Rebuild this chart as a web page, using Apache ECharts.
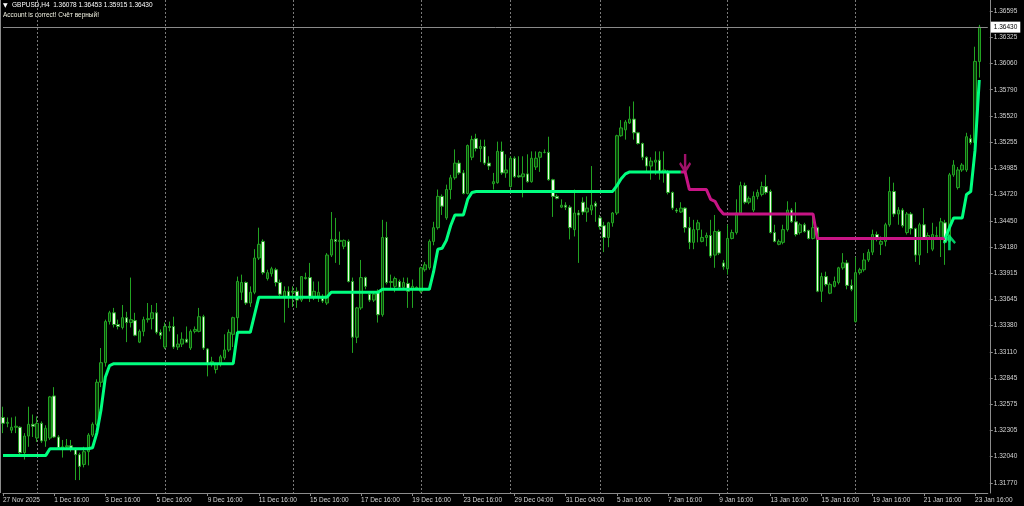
<!DOCTYPE html>
<html><head><meta charset="utf-8">
<script src="https://cdn.jsdelivr.net/npm/echarts@6/dist/echarts.min.js"></script>
<style>html,body{margin:0;padding:0;background:#000;}#c{width:1024px;height:506px;}</style>
</head><body><div id="c"></div>
<script>
const symbolName = 'GBPUSD,H4';
const accountText = 'Account is correct! Счёт верный!';
const tickLabels = ['27 Nov 2025','1 Dec 16:00','3 Dec 16:00','5 Dec 16:00','9 Dec 16:00','11 Dec 16:00','15 Dec 16:00','17 Dec 16:00','19 Dec 16:00','23 Dec 16:00','29 Dec 04:00','31 Dec 04:00','5 Jan 16:00','7 Jan 16:00','9 Jan 16:00','13 Jan 16:00','15 Jan 16:00','19 Jan 16:00','21 Jan 16:00','23 Jan 16:00'];
const labelEvery = 12;
const weekStarts = [8,38,68,98,119,140,170,200];
const yTicks = [1.31770,1.32040,1.32305,1.32575,1.32845,1.33110,1.33380,1.33645,1.33915,1.34180,1.34450,1.34720,1.34985,1.35255,1.35520,1.35790,1.36060,1.36325,1.36595];

const open = [
1.3244,1.3238,1.3231,1.3234,1.3234,1.3208,1.3225,1.3237,1.3223,1.3238,
1.3220,1.3223,1.3266,1.3224,1.3213,1.3214,1.3215,1.3212,1.3206,1.3196,
1.3209,1.3226,1.3237,1.3280,1.3300,1.3342,1.3351,1.3339,1.3336,1.3346,
1.3341,1.3343,1.3321,1.3332,1.3344,1.3345,1.3351,1.3331,1.3316,1.3337,
1.3337,1.3316,1.3319,1.3324,1.3315,1.3332,1.3332,1.3347,1.3314,1.3298,
1.3293,1.3298,1.3305,1.3313,1.3329,1.3346,1.3372,1.3382,1.3361,1.3372,
1.3407,1.3424,1.3386,1.3391,1.3395,1.3382,1.3367,1.3373,1.3372,1.3373,
1.3364,1.3386,1.3387,1.3367,1.3368,1.3366,1.3361,1.3410,1.3426,1.3424,
1.3419,1.3424,1.3383,1.3326,1.3356,1.3387,1.3370,1.3364,1.3373,1.3349,
1.3428,1.3382,1.3378,1.3383,1.3377,1.3381,1.3375,1.3376,1.3373,1.3395,
1.3397,1.3424,1.3438,1.3470,1.3448,1.3477,1.3489,1.3504,1.3494,1.3473,
1.3510,1.3529,1.3519,1.3521,1.3504,1.3483,1.3484,1.3516,1.3494,1.3480,
1.3509,1.3491,1.3490,1.3493,1.3485,1.3500,1.3510,1.3515,1.3515,1.3487,
1.3470,1.3459,1.3461,1.3459,1.3436,1.3453,1.3464,1.3454,1.3456,1.3463,
1.3448,1.3440,1.3428,1.3443,1.3453,1.3532,1.3538,1.3545,1.3549,1.3535,
1.3524,1.3510,1.3501,1.3505,1.3507,1.3495,1.3495,1.3474,1.3456,1.3454,
1.3458,1.3438,1.3423,1.3436,1.3424,1.3428,1.3430,1.3410,1.3434,1.3402,
1.3396,1.3427,1.3433,1.3453,1.3481,1.3464,1.3456,1.3470,1.3472,1.3480,
1.3475,1.3433,1.3421,1.3423,1.3436,1.3456,1.3444,1.3433,1.3441,1.3435,
1.3427,1.3438,1.3373,1.3388,1.3371,1.3378,1.3382,1.3397,1.3402,1.3379,
1.3342,1.3392,1.3395,1.3405,1.3413,1.3431,1.3421,1.3424,1.3441,1.3475,
1.3452,1.3456,1.3433,1.3452,1.3437,1.3410,1.3441,1.3427,1.3416,1.3429,
1.3426,1.3443,1.3424,1.3492,1.3479,1.3497,1.3497,1.3529,1.3525,1.36078];
const high = [
1.3255,1.3244,1.3244,1.3245,1.3235,1.3228,1.3255,1.3247,1.3245,1.3240,
1.3236,1.3266,1.3275,1.3226,1.3221,1.3222,1.3221,1.3213,1.3208,1.3214,
1.3228,1.3239,1.3283,1.3315,1.3344,1.3353,1.3356,1.3344,1.3359,1.3352,
1.3387,1.3351,1.3334,1.3347,1.3361,1.3359,1.3361,1.3334,1.3341,1.3342,
1.3347,1.3329,1.3331,1.3337,1.3334,1.3337,1.3356,1.3349,1.3315,1.3306,
1.3300,1.3308,1.3329,1.3334,1.3347,1.3388,1.3390,1.3383,1.3378,1.3416,
1.3438,1.3426,1.3395,1.3398,1.3397,1.3385,1.3378,1.3378,1.3378,1.3377,
1.3388,1.3392,1.3402,1.3383,1.3383,1.3370,1.3412,1.3454,1.3448,1.3434,
1.3426,1.3426,1.3387,1.3357,1.3405,1.3388,1.3373,1.3373,1.3375,1.3446,
1.3444,1.3390,1.3388,1.3385,1.3387,1.3387,1.3385,1.3378,1.3398,1.3403,
1.3426,1.3444,1.3477,1.3472,1.3482,1.3492,1.3518,1.3507,1.3497,1.3523,
1.3532,1.3534,1.3528,1.3528,1.3511,1.3494,1.3526,1.3526,1.3513,1.3511,
1.3511,1.3511,1.3511,1.3513,1.3516,1.3516,1.3516,1.3518,1.3531,1.3488,
1.3472,1.3467,1.3464,1.3461,1.3477,1.3456,1.3469,1.3470,1.3501,1.3465,
1.3451,1.3444,1.3444,1.3454,1.3533,1.3548,1.3548,1.3562,1.3567,1.3536,
1.3525,1.3511,1.3510,1.3516,1.3516,1.3516,1.3497,1.3475,1.3458,1.3464,
1.3459,1.3449,1.3446,1.3446,1.3436,1.3433,1.3446,1.3451,1.3436,1.3405,
1.3441,1.3436,1.3467,1.3485,1.3484,1.3470,1.3475,1.3477,1.3485,1.3492,
1.3477,1.3441,1.3426,1.3441,1.3465,1.3458,1.3464,1.3443,1.3443,1.3436,
1.3453,1.3439,1.3392,1.3393,1.3382,1.3388,1.3398,1.3412,1.3405,1.3385,
1.3408,1.3397,1.3412,1.3416,1.3436,1.3434,1.3429,1.3443,1.3490,1.3484,
1.3459,1.3458,1.3454,1.3454,1.3438,1.3443,1.3458,1.3433,1.3443,1.3439,
1.3448,1.3446,1.3494,1.3507,1.3500,1.3504,1.3535,1.3533,1.3623,1.36453];
const low = [
1.3228,1.3234,1.3228,1.3228,1.3205,1.3201,1.3214,1.3224,1.3219,1.3218,
1.3214,1.3221,1.3223,1.3211,1.3203,1.3211,1.3209,1.3180,1.3180,1.3193,
1.3195,1.3224,1.3235,1.3275,1.3296,1.3339,1.3336,1.3334,1.3334,1.3321,
1.3336,1.3327,1.3320,1.3327,1.3341,1.3334,1.3329,1.3324,1.3314,1.3332,
1.3314,1.3313,1.3316,1.3320,1.3313,1.3330,1.3331,1.3313,1.3286,1.3296,
1.3289,1.3296,1.3303,1.3311,1.3316,1.3324,1.3364,1.3359,1.3357,1.3370,
1.3405,1.3390,1.3384,1.3388,1.3378,1.3366,1.3341,1.3356,1.3357,1.3356,
1.3362,1.3385,1.3362,1.3364,1.3362,1.3361,1.3359,1.3408,1.3402,1.3400,
1.3416,1.3382,1.3310,1.3320,1.3354,1.3375,1.3362,1.3362,1.3341,1.3347,
1.3380,1.3375,1.3372,1.3375,1.3375,1.3356,1.3356,1.3375,1.3371,1.3393,
1.3395,1.3420,1.3436,1.3451,1.3446,1.3467,1.3487,1.3492,1.3472,1.3472,
1.3507,1.3516,1.3505,1.3502,1.3497,1.3477,1.3483,1.3492,1.3489,1.3479,
1.3489,1.3489,1.3469,1.3484,1.3484,1.3497,1.3495,1.3514,1.3486,1.3449,
1.3467,1.3458,1.3456,1.3426,1.3429,1.3402,1.3451,1.3444,1.3451,1.3444,
1.3436,1.3413,1.3418,1.3439,1.3451,1.3531,1.3528,1.3544,1.3528,1.3523,
1.3507,1.3494,1.3487,1.3492,1.3487,1.3484,1.3472,1.3456,1.3453,1.3453,
1.3433,1.3416,1.3416,1.3423,1.3423,1.3419,1.3407,1.3397,1.3410,1.3395,
1.3390,1.3426,1.3431,1.3451,1.3462,1.3462,1.3454,1.3467,1.3470,1.3472,
1.3432,1.3423,1.3420,1.3421,1.3434,1.3443,1.3429,1.3431,1.3433,1.3426,
1.3426,1.3372,1.3362,1.3378,1.3370,1.3377,1.3380,1.3395,1.3375,1.3373,
1.3341,1.3390,1.3393,1.3403,1.3410,1.3424,1.3410,1.3419,1.3439,1.3449,
1.3441,1.3438,1.3431,1.3431,1.3403,1.3400,1.3426,1.3412,1.3414,1.3426,
1.3408,1.3400,1.3423,1.3490,1.3477,1.3495,1.3495,1.3523,1.3521,1.35915];
const close = [
1.3238,1.3239,1.3234,1.3235,1.3208,1.3225,1.3237,1.3235,1.3238,1.3220,
1.3233,1.3265,1.3224,1.3213,1.3214,1.3215,1.3212,1.3206,1.3194,1.3209,
1.3226,1.3237,1.3280,1.3300,1.3342,1.3351,1.3339,1.3337,1.3346,1.3341,
1.3344,1.3328,1.3332,1.3344,1.3345,1.3351,1.3331,1.3328,1.3337,1.3336,
1.3316,1.3319,1.3324,1.3321,1.3332,1.3334,1.3347,1.3315,1.3298,1.3301,
1.3298,1.3306,1.3313,1.3331,1.3346,1.3383,1.3382,1.3361,1.3372,1.3407,
1.3421,1.3392,1.3392,1.3396,1.3382,1.3370,1.3373,1.3367,1.3373,1.3364,
1.3388,1.3387,1.3367,1.3373,1.3372,1.3363,1.3410,1.3426,1.3424,1.3425,
1.3425,1.3383,1.3326,1.3356,1.3387,1.3378,1.3364,1.3370,1.3349,1.3428,
1.3382,1.3383,1.3386,1.3377,1.3382,1.3373,1.3378,1.3377,1.3397,1.3400,
1.3424,1.3438,1.3470,1.3460,1.3477,1.3489,1.3504,1.3494,1.3473,1.3522,
1.3528,1.3519,1.3521,1.3504,1.3501,1.3485,1.3516,1.3494,1.3497,1.3509,
1.3490,1.3490,1.3493,1.3485,1.3509,1.3509,1.3515,1.3515,1.3487,1.3470,
1.3468,1.3461,1.3459,1.3438,1.3453,1.3451,1.3454,1.3458,1.3461,1.3460,
1.3439,1.3428,1.3443,1.3453,1.3532,1.3540,1.3546,1.3549,1.3535,1.3524,
1.3510,1.3501,1.3506,1.3507,1.3495,1.3497,1.3474,1.3458,1.3455,1.3458,
1.3438,1.3423,1.3436,1.3443,1.3428,1.3430,1.3409,1.3434,1.3412,1.3398,
1.3427,1.3433,1.3453,1.3481,1.3464,1.3468,1.3470,1.3474,1.3480,1.3474,
1.3433,1.3424,1.3424,1.3436,1.3456,1.3444,1.3431,1.3441,1.3434,1.3427,
1.3438,1.3373,1.3388,1.3380,1.3380,1.3383,1.3397,1.3402,1.3379,1.3375,
1.3392,1.3395,1.3405,1.3413,1.3431,1.3427,1.3424,1.3441,1.3475,1.3452,
1.3456,1.3440,1.3452,1.3437,1.3410,1.3441,1.3427,1.3430,1.3431,1.3430,
1.3444,1.3423,1.3492,1.3502,1.3497,1.3502,1.3531,1.3525,1.3608,1.36430];

// trend indicator line, read bar by bar
const trendUp1Start = 0;
const trendUp1 = [
1.3205,1.3205,1.3205,1.3205,1.3205,1.3205,1.3205,1.3205,1.3205,1.3205,
1.3205,1.3212,1.3212,1.3212,1.3212,1.3212,1.3212,1.3212,1.3212,1.3212,
1.3212,1.3213,1.3228,1.3252,1.3285,1.3297,1.3299,1.3299,1.3299,1.3299,
1.3299,1.3299,1.3299,1.3299,1.3299,1.3299,1.3299,1.3299,1.3299,1.3299,
1.3299,1.3299,1.3299,1.3299,1.3299,1.3299,1.3299,1.3299,1.3299,1.3299,
1.3299,1.3299,1.3299,1.3299,1.3299,1.3331,1.3331,1.3331,1.3331,1.3349,
1.3367,1.3367,1.3367,1.3367,1.3367,1.3367,1.3367,1.3367,1.3367,1.3367,
1.3367,1.3367,1.3367,1.3367,1.3367,1.3367,1.3367,1.3372,1.3372,1.3372,
1.3372,1.3372,1.3372,1.3372,1.3372,1.3372,1.3372,1.3372,1.3372,1.3375,
1.3375,1.3375,1.3375,1.3375,1.3375,1.3375,1.3375,1.3375,1.3375,1.3375,
1.3375,1.3393,1.3416,1.3417,1.3425,1.3440,1.3451,1.3451,1.3451,1.3467,
1.3474,1.3475,1.3475,1.3475,1.3475,1.3475,1.3475,1.3475,1.3475,1.3475,
1.3475,1.3475,1.3475,1.3475,1.3475,1.3475,1.3475,1.3475,1.3475,1.3475,
1.3475,1.3475,1.3475,1.3475,1.3475,1.3475,1.3475,1.3475,1.3475,1.3475,
1.3475,1.3475,1.3475,1.3475,1.3481,1.3488,1.3493,1.3495,1.3495,1.3495,
1.3495,1.3495,1.3495,1.3495,1.3495,1.3495,1.3495,1.3495,1.3495,1.3495];
const trendDownStart = 159;
const trendDown = [
1.3495,1.3495,1.3477,1.3477,1.3477,1.3477,1.3477,1.3467,1.3465,1.3457,1.3452,
1.3452,1.3452,1.3452,1.3452,1.3452,1.3452,1.3452,1.3452,1.3452,1.3452,
1.3452,1.3452,1.3452,1.3452,1.3452,1.3452,1.3452,1.3452,1.3452,1.3452,
1.3452,1.3427,1.3427,1.3427,1.3427,1.3427,1.3427,1.3427,1.3427,1.3427,
1.3427,1.3427,1.3427,1.3427,1.3427,1.3427,1.3427,1.3427,1.3427,1.3427,
1.3427,1.3427,1.3427,1.3427,1.3427,1.3427,1.3427,1.3427,1.3427,1.3427,
1.3427,1.3427];
const trendUp2Start = 221;
const trendUp2 = [1.3427,1.3438,1.3448,1.3448,1.3448,1.3472,1.3475,1.3517,1.3589];
const sellSignals = [[160, 1.3503]];
const buySignals = [[222, 1.3423]];

const FONT = 'Liberation Sans';
const N_SLOTS = 232;
const cats = [];
for (let i = 0; i < N_SLOTS; i++) cats.push(String(i));
const candles = open.map((o, i) => [o, close[i], low[i], high[i]]);
function place(start, vals) {
  const arr = new Array(N_SLOTS).fill(null);
  vals.forEach((v, k) => { arr[start + k] = v; });
  return arr;
}
const upA = place(trendUp1Start, trendUp1);
const upB = place(trendUp2Start, trendUp2);
const down = place(trendDownStart, trendDown);
const last = open.length - 1;
const lastClose = close[last];
const header = symbolName + '  ' + [open[last], high[last], low[last], close[last]].map(v => v.toFixed(5)).join(' ');

const chart = echarts.init(document.getElementById('c'), null, {renderer: 'canvas'});
const axisGray = '#8c8c8c';
const textGray = '#d4d4d4';
const isLabelIdx = (i) => i % labelEvery === 0 && i / labelEvery < tickLabels.length;
chart.setOption({
  backgroundColor: '#000',
  animation: false,
  grid: {left: 1.8, right: 36.2, top: 0, bottom: 13},
  xAxis: {
    type: 'category', data: cats, boundaryGap: false,
    axisLine: {lineStyle: {color: axisGray, width: 1}},
    axisTick: {show: true, interval: (i) => isLabelIdx(i), length: 3, lineStyle: {color: axisGray}},
    axisLabel: {interval: (i) => isLabelIdx(i), formatter: (v, i) => tickLabels[i / labelEvery] || '',
      align: 'left', color: textGray, fontSize: 6.5, fontFamily: FONT, margin: 4, hideOverlap: false},
    splitLine: {show: true, interval: (i) => weekStarts.includes(i), lineStyle: {color: '#7a7a7a', type: [2, 2], width: 1}}
  },
  yAxis: {
    type: 'value', position: 'right', offset: 2, min: 1.3166778, max: 1.3670745,
    axisLine: {show: true, lineStyle: {color: axisGray, width: 1}},
    axisTick: {show: true, customValues: yTicks, length: 3, lineStyle: {color: axisGray}},
    axisLabel: {customValues: yTicks, formatter: (v) => v.toFixed(5), color: textGray, fontSize: 6.5, fontFamily: FONT, margin: 4},
    splitLine: {show: false}
  },
  series: [
    {
      type: 'candlestick', data: candles, barWidth: 3, z: 2,
      itemStyle: {color: '#0a420a', color0: '#eefbe8', borderColor: '#22a322', borderColor0: '#22a322', borderColorDoji: '#22a322', borderWidth: 1}
    },
    {type: 'line', data: upA, symbol: 'none', connectNulls: false, z: 3, lineStyle: {color: '#00ff7f', width: 3}, itemStyle: {color: '#00ff7f'},
      markLine: {
        silent: true, symbol: ['none', 'none'], animation: false, precision: 5,
        lineStyle: {color: '#8a8a8a', width: 1, type: 'solid'},
        label: {show: true, position: 'end', distance: 3, formatter: () => lastClose.toFixed(5),
          color: '#000', backgroundColor: '#fff', fontSize: 6.5, fontFamily: FONT, padding: [2, 3, 2, 3]},
        data: [{yAxis: lastClose}]
      }
    },
    {type: 'line', data: down, symbol: 'none', connectNulls: false, z: 3, lineStyle: {color: '#c71585', width: 3}, itemStyle: {color: '#c71585'}},
    {type: 'line', data: upB, symbol: 'none', connectNulls: false, z: 3, lineStyle: {color: '#00ff7f', width: 3}, itemStyle: {color: '#00ff7f'}},
    {type: 'scatter', data: sellSignals, z: 4, symbol: 'path://M5,0 H7.5 V9 L11,5.5 L12.5,7 L6.25,14 L0,7 L1.5,5.5 L5,9 Z', symbolSize: [12, 20], itemStyle: {color: '#c71585'}},
    {type: 'scatter', data: buySignals, z: 4, symbol: 'path://M6.25,0 L12.5,7 L11,8.5 L7.5,5 V14 H5 V5 L1.5,8.5 L0,7 Z', symbolSize: [13, 16], itemStyle: {color: '#00ff7f'}}
  ],
  graphic: [
    {type: 'line', shape: {x1: 0.5, y1: 0, x2: 0.5, y2: 493}, style: {stroke: axisGray, lineWidth: 1}, silent: true},
    {type: 'text', x: 3, y: 5.5, style: {text: '▼', fill: '#fff', fontSize: 6, fontFamily: 'DejaVu Sans', textVerticalAlign: 'middle'}},
    {type: 'text', x: 12, y: 5.5, style: {text: header, fill: '#fff', fontSize: 6.5, fontFamily: FONT, textVerticalAlign: 'middle'}},
    {type: 'text', x: 3, y: 15, style: {text: accountText, fill: '#f0f0e0', fontSize: 6.5, fontFamily: FONT, textVerticalAlign: 'middle'}}
  ]
});
</script>
</body></html>
